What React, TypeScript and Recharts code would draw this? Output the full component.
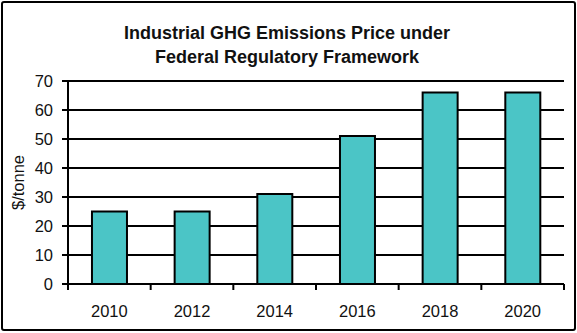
import React from "react";
import { BarChart, Bar, XAxis, YAxis, CartesianGrid } from "recharts";

// data
const years = ["2010", "2012", "2014", "2016", "2018", "2020"];
const prices = [25, 25, 31, 51, 66, 66];
const yTicks = [0, 10, 20, 30, 40, 50, 60, 70];

const data = years.map((year, i) => ({ year, price: prices[i] }));

const FONT = "Arial, 'Liberation Sans', sans-serif";
const LINE = 2;

const XTick = (props: any) => {
  const { x, y, payload } = props;
  const half = payload && payload.offset ? payload.offset : 41.33;
  const isLast = payload.value === years[years.length - 1];
  return (
    <g>
      <line x1={x - half} x2={x - half} y1={y} y2={y + 6} stroke="#000" strokeWidth={LINE} />
      {isLast && (
        <line x1={x + half} x2={x + half} y1={y} y2={y + 6} stroke="#000" strokeWidth={LINE} />
      )}
      <text x={x} y={y + 33} textAnchor="middle" fontSize={16.5} fill="#111" fontFamily={FONT}>
        {payload.value}
      </text>
    </g>
  );
};

const YLabel = (props: any) => {
  const vb = props.viewBox || { x: 18, y: 81, width: 50, height: 203 };
  const x = vb.x + 6;
  const y = vb.y + vb.height / 2;
  return (
    <text
      x={x}
      y={y}
      transform={`rotate(-90, ${x}, ${y})`}
      textAnchor="middle"
      fontSize={16.5}
      fill="#111"
      fontFamily={FONT}
    >
      $/tonne
    </text>
  );
};

const App = () => {
  return (
    <div
      style={{
        position: "absolute",
        left: 0,
        top: 0,
        width: 577,
        height: 333,
        background: "#fff",
        fontFamily: FONT,
      }}
    >
      <div
        style={{
          position: "absolute",
          top: 21,
          left: 0,
          width: 574,
          textAlign: "center",
          fontWeight: "bold",
          fontSize: 18,
          lineHeight: "24px",
          color: "#111",
        }}
      >
        Industrial GHG Emissions Price under
        <br />
        Federal Regulatory Framework
      </div>
      <BarChart
        width={577}
        height={333}
        data={data}
        margin={{ top: 81, right: 13, bottom: 19, left: 18 }}
        barCategoryGap="29%"
      >
        <CartesianGrid vertical={false} stroke="#000" strokeWidth={LINE} yAxisId="left" />
        <XAxis
          dataKey="year"
          interval={0}
          height={30}
          tickSize={0}
          tickMargin={0}
          tickLine={false}
          axisLine={{ stroke: "#000", strokeWidth: LINE }}
          tick={<XTick />}
        />
        <YAxis
          yAxisId="left"
          width={50}
          domain={[0, 70]}
          ticks={yTicks}
          interval={0}
          tickSize={6}
          tickMargin={9}
          tickLine={{ stroke: "#000", strokeWidth: LINE }}
          axisLine={{ stroke: "#000", strokeWidth: LINE }}
          tick={{ fontSize: 16.5, fill: "#111", fontFamily: FONT }}
          label={<YLabel />}
        />
        <YAxis
          yAxisId="right"
          orientation="right"
          width={0}
          domain={[0, 70]}
          tick={false}
          tickLine={false}
          axisLine={{ stroke: "#000", strokeWidth: LINE }}
        />
        <Bar
          yAxisId="left"
          dataKey="price"
          fill="#4BC5C6"
          stroke="#000"
          strokeWidth={LINE}
          isAnimationActive={false}
        />
      </BarChart>
      <div
        style={{
          position: "absolute",
          left: 1,
          top: 1,
          width: 575,
          height: 330,
          border: "2px solid #000",
          borderRadius: 3,
          boxSizing: "border-box",
          pointerEvents: "none",
        }}
      />
    </div>
  );
};

export default App;
